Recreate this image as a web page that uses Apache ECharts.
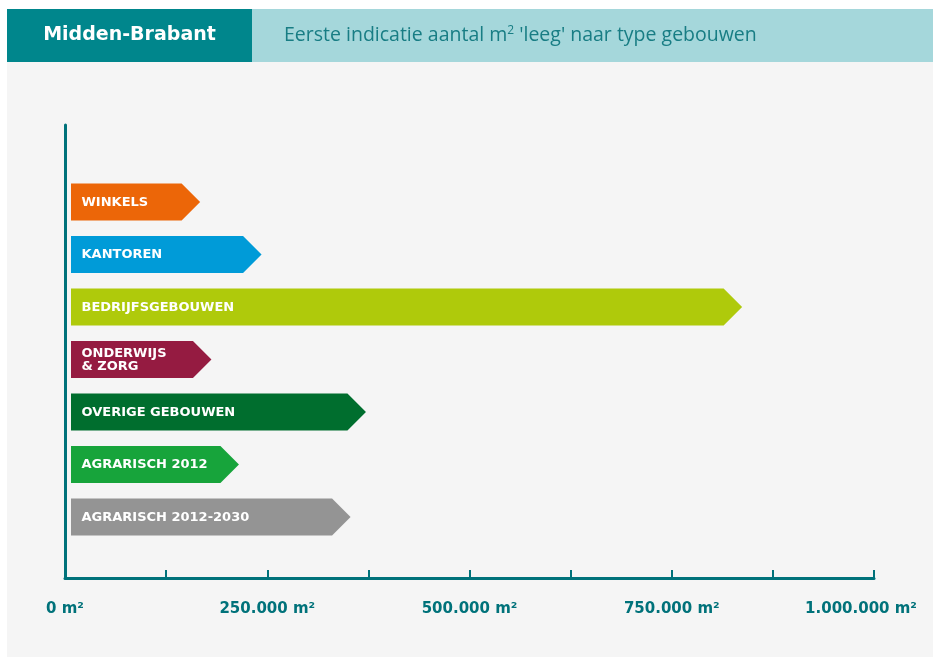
<!DOCTYPE html>
<html>
<head>
<meta charset="utf-8">
<script src="https://cdn.jsdelivr.net/npm/echarts@6/dist/echarts.min.js"></script>
<style>
  html, body { margin: 0; padding: 0; background: #ffffff; }
  #chart { width: 933px; height: 657px; }
</style>
</head>
<body>
<div id="chart"></div>
<script>
// Building types and the estimated vacant floor area (m²)
const categories = [
  'WINKELS',
  'KANTOREN',
  'BEDRIJFSGEBOUWEN',
  'ONDERWIJS\n& ZORG',
  'OVERIGE GEBOUWEN',
  'AGRARISCH 2012',
  'AGRARISCH 2012-2030'
];
const areaM2 = [167000, 243000, 837000, 181000, 372000, 215000, 353000];
const tickValues = [0, 250000, 500000, 750000, 1000000];

const barColors = ['#ec6608', '#009bd8', '#afca0b', '#951b41', '#006e2e', '#17a43b', '#949494'];
const teal = '#00727a';
const BOLD_FONT = '"DejaVu Sans", sans-serif';
const TEXT_FONT = '"Open Sans", sans-serif';

function fmtM2(v) {
  return String(v).replace(/\B(?=(\d{3})+(?!\d))/g, '.') + ' m²';
}

const chart = echarts.init(document.getElementById('chart'));

const barH = 37;

chart.setOption({
  backgroundColor: '#ffffff',
  animation: false,
  graphic: [
    { type: 'rect', shape: { x: 7, y: 62, width: 926, height: 595 }, style: { fill: '#f5f5f5' }, z: -10 },
    { type: 'rect', shape: { x: 7, y: 9, width: 245, height: 53 }, style: { fill: '#00868c' }, z: -5 },
    { type: 'rect', shape: { x: 252, y: 9, width: 681, height: 53 }, style: { fill: '#a5d7db' }, z: -5 },
    {
      type: 'text', x: 129.5, y: 35, z: 5,
      style: { text: 'Midden-Brabant', fill: '#ffffff', font: 'bold 19px ' + BOLD_FONT, align: 'center', verticalAlign: 'middle' }
    },
    {
      type: 'text', x: 284, y: 35, z: 5,
      style: {
        text: "Eerste indicatie aantal m{s|2} 'leeg' naar type gebouwen",
        fill: '#187d84', font: '19.5px ' + TEXT_FONT, verticalAlign: 'middle',
        rich: { s: { fontSize: 12, fill: '#187d84', verticalAlign: 'top', padding: [0, 0, 9, 0], fontFamily: TEXT_FONT } }
      }
    }
  ],
  grid: { left: 65, right: 59, top: 125, bottom: 79 },
  xAxis: {
    type: 'value',
    min: 0,
    max: 1000000,
    interval: 125000,
    splitLine: { show: false },
    axisLine: { show: true, onZero: false, lineStyle: { color: teal, width: 3 } },
    axisTick: { show: true, inside: true, length: 8, lineStyle: { color: teal, width: 2 } },
    axisLabel: {
      margin: 24,
      color: teal,
      fontFamily: BOLD_FONT,
      fontWeight: 'bold',
      fontSize: 15,
      showMaxLabel: true,
      formatter: function (v) {
        if (tickValues.indexOf(v) < 0) return '';
        if (v === tickValues[tickValues.length - 1]) return '{last|' + fmtM2(v) + '}';
        return fmtM2(v);
      },
      rich: {
        last: { color: teal, fontFamily: BOLD_FONT, fontWeight: 'bold', fontSize: 15, padding: [0, 26, 0, 0] }
      }
    }
  },
  yAxis: {
    type: 'value',
    inverse: true,
    min: -1.467,
    max: 7.162,
    splitLine: { show: false },
    axisTick: { show: false },
    axisLabel: { show: false },
    axisLine: { show: true, lineStyle: { color: teal, width: 3 } }
  },
  series: [{
    type: 'custom',
    data: areaM2.map(function (v, i) { return [v, i]; }),
    encode: { x: 0, y: 1 },
    renderItem: function (params, api) {
      const idx = api.value(1);
      const start = api.coord([0, idx]);
      const end = api.coord([api.value(0), idx]);
      const x0 = start[0] + 6;
      const tip = end[0];
      const y = start[1];
      const h = barH;
      const neck = tip - h / 2;
      return {
        type: 'group',
        children: [
          {
            type: 'polygon',
            shape: { points: [[x0, y - h / 2], [neck, y - h / 2], [tip, y], [neck, y + h / 2], [x0, y + h / 2]] },
            style: { fill: barColors[idx] }
          },
          {
            type: 'text',
            x: x0 + 10.5,
            y: y + 0.5,
            style: {
              text: categories[idx],
              fill: '#ffffff',
              font: 'bold 13px ' + BOLD_FONT,
              lineHeight: 12.5,
              verticalAlign: 'middle'
            }
          }
        ]
      };
    }
  }]
});
</script>
</body>
</html>
